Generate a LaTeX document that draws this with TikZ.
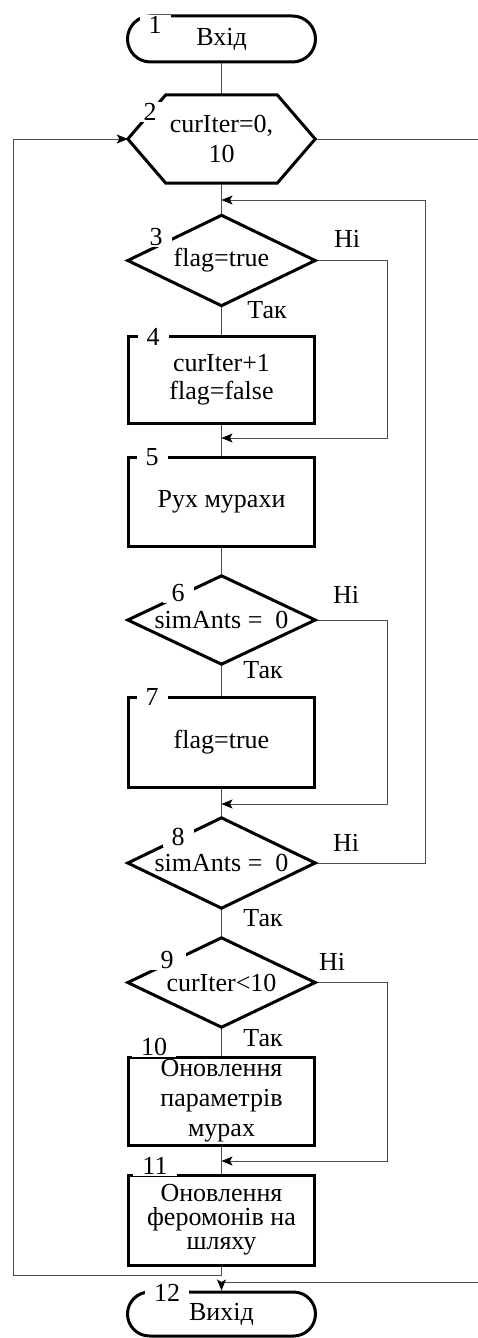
\documentclass[tikz,border=0pt]{standalone}
\usepackage{fontspec}
\setmainfont{Liberation Serif}
\usetikzlibrary{arrows.meta,calc}
\begin{document}
\begin{tikzpicture}[x=1pt,y=-1pt,
  every node/.style={font=\fontsize{26}{29}\selectfont, inner sep=0pt},
  shp/.style={line width=3pt, line join=miter},
  box/.style={rectangle, draw, line width=3pt, minimum width=186pt, align=center},
  termbox/.style={rectangle, draw, line width=3pt, minimum width=188pt},
  hold/.style={rectangle, minimum width=187pt, align=center},
  num/.style={fill=white, inner xsep=9pt, inner ysep=1pt},
  conn/.style={line width=1pt, draw=black!70},
  arr/.style={conn, -{Stealth[length=11pt,width=9pt,inset=2.5pt,color=black]}}
]
\useasboundingbox (0,0) rectangle (477,1338);

% helper columns
\coordinate (rIn) at (387,0);
\coordinate (rOut) at (425,0);
\coordinate (lft) at (13,0);
\coordinate (rEdge) at (479.5,0);

% shapes
\node[termbox, rounded corners=23pt, minimum height=46pt] (t1) at (221.5,39) {Вхід};
\node[hold, minimum height=88pt, font=\fontsize{26}{30}\selectfont] (h2) at (221.5,139) {curIter=0,\\10};
\node[hold, minimum height=90pt] (d3) at (221.5,260.5) {flag=true};
\node[box, minimum height=87pt, font=\fontsize{26}{28}\selectfont] (b4) at (221.5,379.5) {curIter+1\\flag=false};
\node[box, minimum height=89pt] (b5) at (221.5,501.5) {Рух мурахи};
\node[hold, minimum height=88pt] (d6) at (221.5,620) {simAnts = \ 0};
\node[box, minimum height=90pt] (b7) at (221.5,742) {flag=true};
\node[hold, minimum height=90pt] (d8) at (221.5,863) {simAnts = \ 0};
\node[hold, minimum height=89pt] (d9) at (221.5,982.5) {curIter<10};
\node[box, minimum height=88pt, font=\fontsize{26}{30}\selectfont] (b10) at (221.5,1101) {Оновлення\\параметрів\\мурах};
\node[box, minimum height=90pt, font=\fontsize{26}{24}\selectfont] (b11) at (221.5,1220) {Оновлення\\феромонів на\\шляху};
\node[termbox, rounded corners=22pt, minimum height=44pt] (t12) at (221.5,1314) {Вихід};

% junctions
\coordinate (j3) at (221.5,200);
\coordinate (j5) at (221.5,438);
\coordinate (j8) at (221.5,804);
\coordinate (j11) at (221.5,1161);
\coordinate (jl) at (221.5,1275);
\coordinate (j12) at (221.5,1282);

% connectors
\draw[conn] (t1) -- (h2);
\draw[conn] (h2) -- (d3);
\draw[conn] (d3) -- (b4);
\draw[conn] (b4) -- (b5);
\draw[conn] (b5) -- (d6);
\draw[conn] (d6) -- (b7);
\draw[conn] (b7) -- (d8);
\draw[conn] (d8) -- (d9);
\draw[conn] (d9) -- (b10);
\draw[conn] (b10) -- (b11);
\draw[arr] (d3.east) -- (d3.east -| rIn) |- (j5);
\draw[arr] (d6.east) -- (d6.east -| rIn) |- (j8);
\draw[arr] (d9.east) -- (d9.east -| rIn) |- (j11);
\draw[arr] (d8.east) -- (d8.east -| rOut) |- (j3);
\draw[arr] (b11.south) -- (jl) -- (jl -| lft) -- (h2.west -| lft) -- (h2.west);
\draw[arr] (h2.east) -- (h2.east -| rEdge) -- (j12 -| rEdge) -- (j12) -- (t12.north);

% outlines of hexagon and diamonds
\draw[shp] ([xshift=38pt]h2.north west) -- ([xshift=-38pt]h2.north east) -- (h2.east) -- ([xshift=-38pt]h2.south east) -- ([xshift=38pt]h2.south west) -- (h2.west) -- cycle;
\draw[shp] (d3.north) -- (d3.east) -- (d3.south) -- (d3.west) -- cycle;
\draw[shp] (d6.north) -- (d6.east) -- (d6.south) -- (d6.west) -- cycle;
\draw[shp] (d8.north) -- (d8.east) -- (d8.south) -- (d8.west) -- cycle;
\draw[shp] (d9.north) -- (d9.east) -- (d9.south) -- (d9.west) -- cycle;

% number labels
\node[num] (n1) at (155,25) {1};
\node[num] (n2) at (150,112) {2};
\node[num] (n3) at (156,237) {3};
\node[num] (n4) at (153,337) {4};
\node[num] (n5) at (152,457) {5};
\node[num] (n6) at (178,593) {6};
\node[num] (n7) at (152,697) {7};
\node[num] (n8) at (178,837) {8};
\node[num, inner xsep=12pt] (n9) at (167,960) {9};
\node[num] (n10) at (154,1047) {10};
\node[num] (n11) at (155,1166) {11};
\node[num] (n12) at (167,1293) {12};

% branch labels
\node (y3) at (267,310) {Так};
\node (no3) at (347,239) {Ні};
\node (y6) at (263,670) {Так};
\node (no6) at (346,595) {Ні};
\node (y8) at (263,918) {Так};
\node (no8) at (346,843) {Ні};
\node (y9) at (263,1038) {Так};
\node (no9) at (332,962) {Ні};
\end{tikzpicture}
\end{document}
